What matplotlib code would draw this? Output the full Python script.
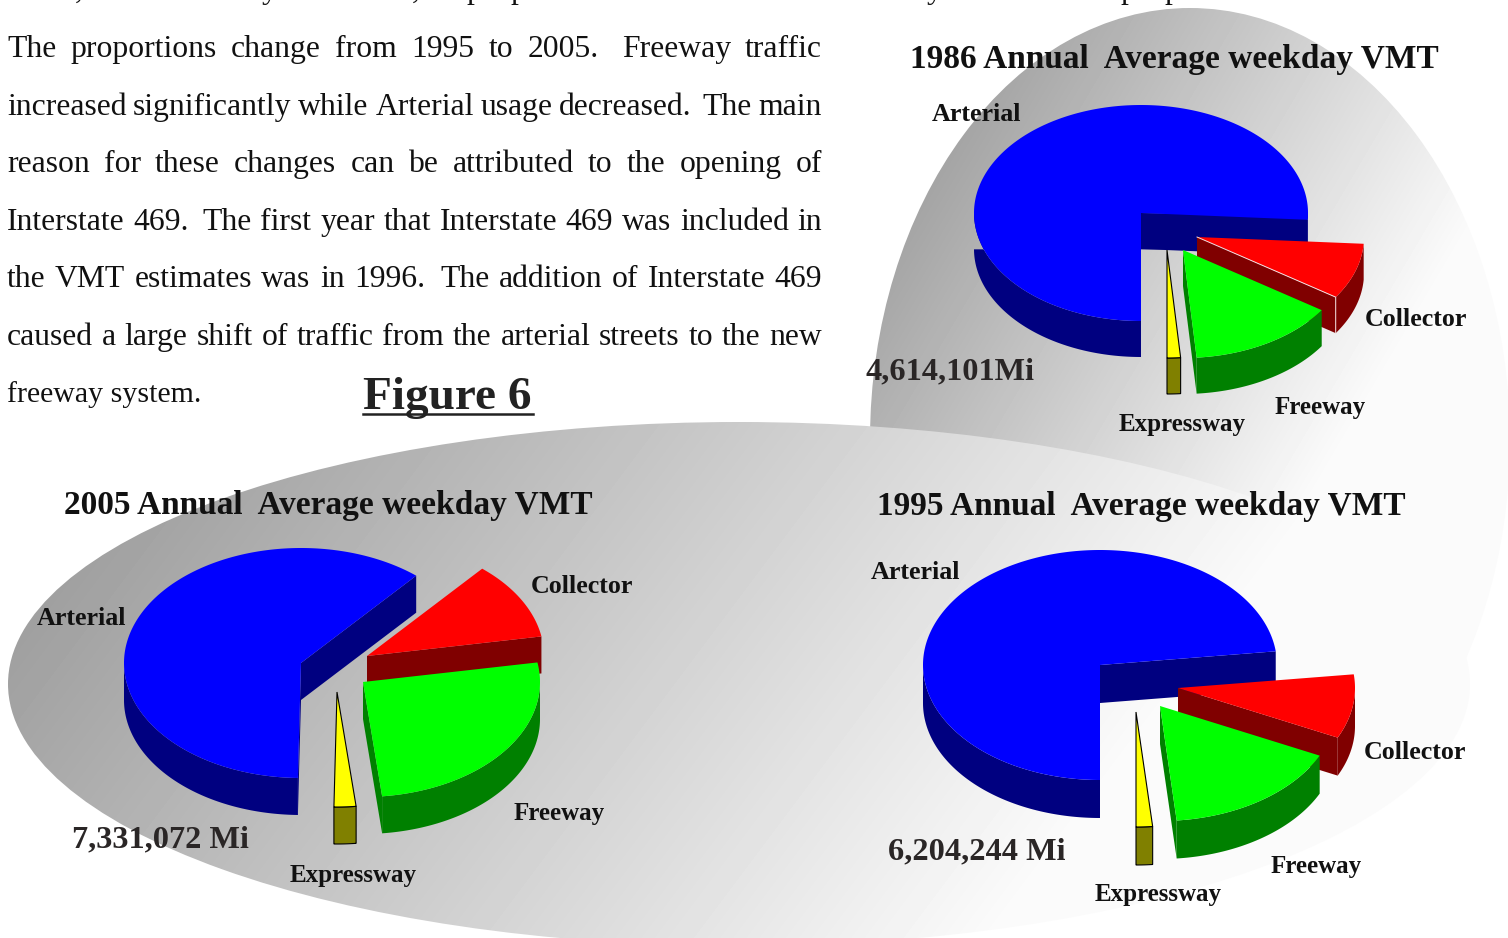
import numpy as np
import matplotlib
matplotlib.use('Agg')
import matplotlib.pyplot as plt
from matplotlib.patches import Ellipse, Polygon

plt.rcParams['font.family'] = ['Liberation Serif', 'DejaVu Serif']

# road classes, clockwise from the front of each pie
road_classes = ['Arterial', 'Collector', 'Freeway', 'Expressway']
shares_1986 = [76.0, 8.4, 14.3, 1.3]
shares_1995 = [73.1, 9.0, 16.4, 1.5]
shares_2005 = [61.0, 11.0, 26.0, 2.0]

titles = ['1986 Annual  Average weekday VMT',
          '1995 Annual  Average weekday VMT',
          '2005 Annual  Average weekday VMT']
totals = ['4,614,101Mi', '6,204,244 Mi', '7,331,072 Mi']

body_lines = [
    'The proportions change from 1995 to 2005.  Freeway traffic',
    'increased significantly while Arterial usage decreased.  The main',
    'reason for these changes can be attributed to the opening of',
    'Interstate 469.  The first year that Interstate 469 was included in',
    'the VMT estimates was in 1996.  The addition of Interstate 469',
    'caused a large shift of traffic from the arterial streets to the new',
]
last_line = 'freeway system.'
figure_label = 'Figure 6'

top_colors = ['#0000ff', '#ff0000', '#00ff00', '#ffff00']
side_colors = ['#000080', '#800000', '#008000', '#808000']

W, H = 1508, 938
fig = plt.figure(figsize=(W / 100, H / 100), dpi=100)
ax = fig.add_axes([0, 0, 1, 1])
ax.set_xlim(0, W)
ax.set_ylim(H, 0)
ax.axis('off')


# grey blobs behind the pies
def blob(center, a, b, direction, t0, g0, slope, top, z):
    xx, yy = np.meshgrid(np.arange(W), np.arange(H))
    t = xx * direction[0] + yy * direction[1]
    g = np.clip(g0 + (t - t0) * slope, 0, top) / 255
    im = ax.imshow(g, cmap='gray', vmin=0, vmax=1, extent=(0, W, H, 0),
                   aspect='auto', zorder=z, interpolation='bilinear')
    e = Ellipse(center, 2 * a, 2 * b, transform=ax.transData, fc='none', ec='none')
    ax.add_patch(e)
    im.set_clip_path(e)


blob((1190, 440), 320, 432, (0.85, 0.5), 948, 176, 0.18, 251, 1)
blob((739, 684), 731, 262, (0.8, 0.6), 432, 163, 0.095, 251, 2)
ax.set_xlim(0, W)
ax.set_ylim(H, 0)


def draw_pie(shares, cx, cy, rx, ry, depth, offsets, start=-90, white_edge=False):
    angles = np.cumsum([0] + list(shares)) / sum(shares) * 360
    for i in range(len(shares)):
        t0 = start - angles[i]
        t1 = start - angles[i + 1]
        ts = np.radians(np.linspace(t0, t1, 400))
        ax_, ay = cx + offsets[i][0], cy + offsets[i][1]
        xs = ax_ + rx * np.cos(ts)
        ys = ay - ry * np.sin(ts)
        z = 10 + i
        ec = 'black' if i == 3 else 'none'
        lw = 0.8 if i == 3 else 0

        # cut faces which look towards the viewer
        for t, visible in ((ts[-1], np.cos(ts[-1]) > 1e-6), (ts[0], np.cos(ts[0]) < -1e-6)):
            if visible:
                ex, ey = ax_ + rx * np.cos(t), ay - ry * np.sin(t)
                ax.add_patch(Polygon([(ax_, ay), (ex, ey), (ex, ey + depth), (ax_, ay + depth)],
                                     fc=side_colors[i], ec='none', zorder=z))

        # outer wall
        front = np.sin(ts) <= 0
        if front.any():
            wx, wy = xs[front], ys[front]
            pts = np.r_[np.c_[wx, wy], np.c_[wx, wy + depth][::-1]]
            ax.add_patch(Polygon(pts, fc=side_colors[i], ec=ec, lw=lw, zorder=z))

        # top face
        pts = np.r_[[(ax_, ay)], np.c_[xs, ys]]
        ax.add_patch(Polygon(pts, fc=top_colors[i], ec=ec, lw=lw, zorder=z))

        if white_edge and i == 1:
            ax.plot([ax_, xs[-1], xs[-1]], [ay, ys[-1], ys[-1] + depth],
                    color='#f4e0e0', lw=0.7, zorder=z + 0.5)


draw_pie(shares_1986, 1141, 213, 167, 108, 36, [(0, 0), (56, 24), (42, 37), (26, 37)], white_edge=True)
draw_pie(shares_1995, 1100, 665, 177, 115, 38, [(0, 0), (78, 23), (60, 41), (36, 47)])
draw_pie(shares_2005, 301, 663, 177, 115, 37, [(0, 0), (66, -7), (62, 19), (36, 29)], start=-91)


def label(x, y, s, size=18.7, color='#111111', **kw):
    ax.text(x, y, s, fontsize=size, fontweight='bold', color=color,
            ha='left', va='baseline', zorder=30, **kw)


label(910, 68, titles[0], 24)
label(877, 515, titles[1], 24)
label(64, 514, titles[2], 24)
label(865, 379, totals[0], 23.3, '#2a2626')
label(888, 859, totals[1], 23.3, '#2a2626')
label(72, 847, totals[2], 23.3, '#2a2626')

# road class labels for the three pies, in road_classes order
label(932, 121, road_classes[0])
label(1365, 326, road_classes[1])
label(1275, 414, road_classes[2], 18)
label(1119, 431, road_classes[3], 18)

label(871, 579, road_classes[0])
label(1364, 759, road_classes[1])
label(1271, 873, road_classes[2], 18)
label(1095, 901, road_classes[3], 18)

label(37, 625, road_classes[0])
label(531, 593, road_classes[1])
label(514, 820, road_classes[2], 18)
label(290, 882, road_classes[3], 18)

# body text, justified word by word
body_size = 22.8
fig.canvas.draw()
rend = fig.canvas.get_renderer()


def text_width(s):
    t = ax.text(0, 0, s, fontsize=body_size)
    w = t.get_window_extent(rend).width
    t.remove()
    return w


left, right = 7, 822
for n, line in enumerate(body_lines):
    y = 57 + n * 57.6
    words = line.replace('  ', ' ~').split(' ')
    extra = [1.6 if w.startswith('~') else 1 for w in words[1:]]
    words = [w.lstrip('~') for w in words]
    widths = [text_width(w) for w in words]
    gap = (right - left - sum(widths)) / sum(extra)
    x = left
    for k, w in enumerate(words):
        ax.text(x, y, w, fontsize=body_size, color='#111111', va='baseline', zorder=30)
        if k < len(extra):
            x += widths[k] + gap * extra[k]
ax.text(left, 57 + 6 * 57.6 - 1, last_line, fontsize=21.5, color='#111111', va='baseline', zorder=30)

# descenders of the line cut off by the page top
for x, s in [(75, ','), (262, 'y'), (412, ','), (466, 'p'), (510, 'p'), (927, 'y'), (1120, 'p'), (1164, 'p')]:
    ax.text(x, -2, s, fontsize=body_size, color='#111111', va='baseline', zorder=30, clip_on=True)

# figure label with underline
ax.text(363, 409, figure_label, fontsize=34, fontweight='bold', color='#222222',
        va='baseline', zorder=30)
ax.plot([363, 533], [414, 414], color='#222222', lw=1.8, zorder=30)

fig.savefig('out.png', dpi=100)
